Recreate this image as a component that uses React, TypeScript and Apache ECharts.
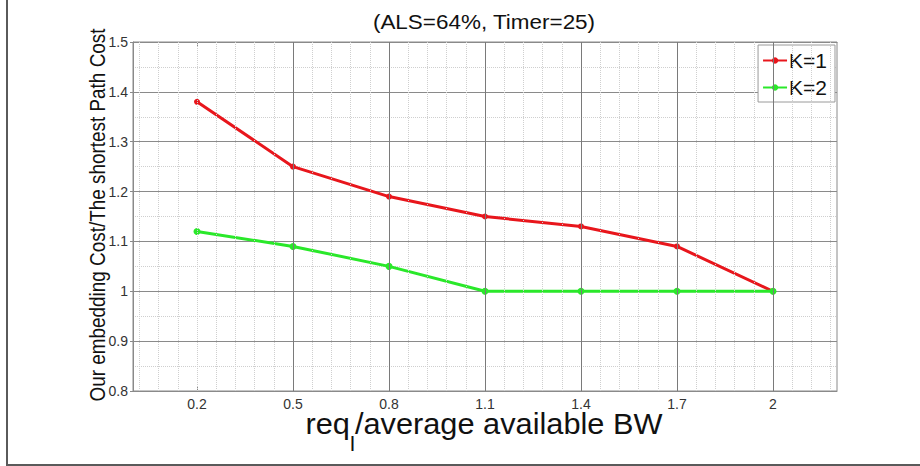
import React, { useEffect, useRef } from "react";
import * as echarts from "echarts";

// Ratio of embedding cost to shortest-path cost versus bandwidth request ratio
const xValues = [0.2, 0.5, 0.8, 1.1, 1.4, 1.7, 2.0];
const k1Values = [1.38, 1.25, 1.19, 1.15, 1.13, 1.09, 1.0];
const k2Values = [1.12, 1.09, 1.05, 1.0, 1.0, 1.0, 1.0];
const seriesNames = ["K=1", "K=2"];
const titleText = "(ALS=64%, Timer=25)";
const yAxisTitle = "Our embedding Cost/The shortest Path Cost";

// vertical grid: major lines at the labelled ticks (except the first), minor every 0.06
const majorGridX = [0.5, 0.8, 1.1, 1.4, 1.7, 2.0];
const minorStep = 0.06;
const minorStart = 0.02;

const X_MIN = 0;
const X_MAX = 2.2;

export default function App() {
  const ref = useRef<HTMLDivElement>(null);

  useEffect(() => {
    document.body.style.margin = "0";
    if (!ref.current) return;
    const chart = echarts.init(ref.current, undefined, { renderer: "svg" });

    const minorGridX: number[] = [];
    for (let k = 0; ; k++) {
      const v = Math.round((minorStart + k * minorStep) * 100) / 100;
      if (v >= X_MAX) break;
      if (!majorGridX.some((m) => Math.abs(m - v) < 1e-6)) minorGridX.push(v);
    }

    const font = "'Liberation Sans', Arial, Helvetica, sans-serif";

    chart.setOption({
      animation: false,
      backgroundColor: "#ffffff",
      textStyle: { fontFamily: font },
      grid: {
        left: 133,
        top: 42,
        width: 704,
        height: 349,
        show: true,
        borderColor: "#8a8a8a",
        borderWidth: 1,
        containLabel: false,
      },
      legend: {
        data: seriesNames,
        orient: "vertical",
        right: 85,
        top: 45,
        itemWidth: 24,
        itemHeight: 8,
        itemGap: 6,
        padding: [5, 8, 4, 4],
        borderColor: "#9a9a9a",
        borderWidth: 1,
        backgroundColor: "#ffffff",
        textStyle: { fontSize: 21, color: "#111", fontFamily: font, padding: [0, 0, 0, -3] },
      },
      xAxis: [
        {
          type: "value",
          min: X_MIN,
          max: X_MAX,
          position: "bottom",
          axisLine: { show: true, lineStyle: { color: "#8a8a8a" } },
          axisTick: {
            show: true,
            inside: true,
            length: 5,
            customValues: xValues,
            lineStyle: { color: "#8a8a8a" },
          },
          axisLabel: {
            customValues: xValues,
            fontSize: 14,
            color: "#333",
            margin: 6,
            fontFamily: font,
          },
          splitLine: { show: false },
        },
        {
          type: "value",
          min: X_MIN,
          max: X_MAX,
          position: "top",
          axisLine: { show: true, lineStyle: { color: "#8a8a8a" } },
          axisTick: {
            show: true,
            inside: true,
            length: 5,
            customValues: xValues,
            lineStyle: { color: "#8a8a8a" },
          },
          axisLabel: { show: false },
          splitLine: { show: false },
        },
      ],
      yAxis: {
        type: "value",
        min: 0.8,
        max: 1.5,
        interval: 0.1,
        axisLine: { show: true, lineStyle: { color: "#8a8a8a" } },
        axisTick: { show: true, length: 3, lineStyle: { color: "#8a8a8a" } },
        axisLabel: { fontSize: 14, color: "#333", margin: 5, fontFamily: font },
        splitLine: { show: true, lineStyle: { color: "#8a8a8a", width: 1 } },
        minorTick: { show: false, splitNumber: 2 },
        minorSplitLine: { show: true, lineStyle: { color: "#cfcfcf", type: "dotted", width: 1 } },
      },
      series: [
        {
          name: "grid",
          type: "line",
          data: [],
          silent: true,
          z: 1,
          markLine: {
            silent: true,
            symbol: ["none", "none"],
            label: { show: false },
            animation: false,
            data: [
              ...minorGridX.map((v) => ({
                xAxis: v,
                lineStyle: { color: "#cfcfcf", type: "dotted", width: 1 },
              })),
              ...majorGridX.map((v) => ({
                xAxis: v,
                lineStyle: { color: "#7a7a7a", type: "solid", width: 1 },
              })),
            ],
          },
        },
        {
          name: seriesNames[0],
          type: "line",
          z: 3,
          data: xValues.map((x, i) => [x, k1Values[i]]),
          symbol: "circle",
          symbolSize: 6,
          itemStyle: { color: "#e8161c" },
          lineStyle: { color: "#e8161c", width: 3 },
        },
        {
          name: seriesNames[1],
          type: "line",
          z: 4,
          data: xValues.map((x, i) => [x, k2Values[i]]),
          symbol: "circle",
          symbolSize: 7,
          itemStyle: { color: "#2ae82a" },
          lineStyle: { color: "#2ae82a", width: 3 },
        },
      ],
      graphic: [
        {
          type: "text",
          x: 484,
          y: 21.5,
          scaleX: 1.07,
          style: {
            text: titleText,
            fontSize: 21,
            fontFamily: font,
            fill: "#111",
            align: "center",
            verticalAlign: "middle",
          },
        },
        {
          type: "text",
          x: 97,
          y: 215,
          rotation: Math.PI / 2,
          scaleX: 0.86,
          style: {
            text: yAxisTitle,
            fontSize: 22,
            fontFamily: font,
            fill: "#111",
            align: "center",
            verticalAlign: "middle",
          },
        },
        {
          type: "text",
          x: 484,
          y: 409.5,
          scaleX: 1.06,
          style: {
            text: "{a|req}{s|l}{a|/average available BW}",
            fontFamily: font,
            fill: "#111",
            align: "center",
            verticalAlign: "top",
            rich: {
              a: { fontSize: 29, lineHeight: 30, verticalAlign: "top", fontFamily: font, fill: "#111" },
              s: {
                fontSize: 21,
                lineHeight: 21,
                verticalAlign: "top",
                padding: [24, 0, 0, 0],
                fontFamily: font,
                fill: "#111",
              },
            },
          },
        },
        {
          type: "line",
          shape: { x1: 7, y1: 0, x2: 7, y2: 465 },
          style: { stroke: "#5a5a5a", lineWidth: 2 },
        },
        {
          type: "line",
          shape: { x1: 6, y1: 465, x2: 920, y2: 465 },
          style: { stroke: "#5a5a5a", lineWidth: 2 },
        },
      ],
    });

    return () => chart.dispose();
  }, []);

  return <div ref={ref} style={{ width: 920, height: 466 }} />;
}
